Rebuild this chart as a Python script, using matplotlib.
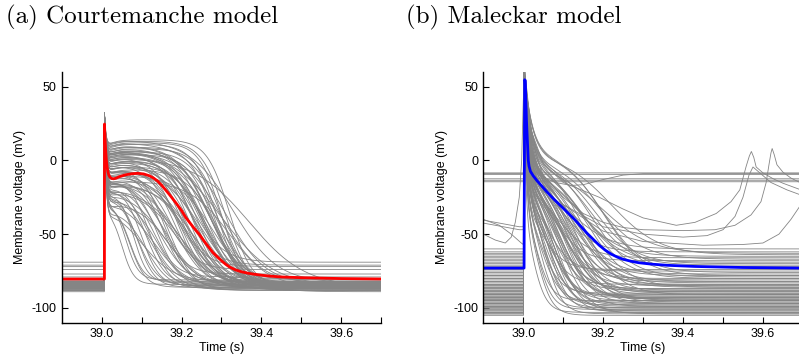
import numpy as np
import matplotlib.pyplot as plt

plt.rcParams['font.family'] = ['Liberation Sans', 'DejaVu Sans']
plt.rcParams['axes.unicode_minus'] = False

# (a) Courtemanche baseline action potential (red)
ctm_t = [38.9, 39.007, 39.0072, 39.008, 39.009, 39.0105, 39.012, 39.014, 39.016, 39.018,
         39.021, 39.025, 39.03, 39.035, 39.045, 39.06, 39.075, 39.09, 39.105, 39.12,
         39.13, 39.14, 39.15, 39.16, 39.17, 39.185, 39.2, 39.21, 39.22, 39.23,
         39.244, 39.26, 39.27, 39.278, 39.29, 39.3, 39.31, 39.32, 39.335, 39.35,
         39.365, 39.378, 39.4, 39.42, 39.45, 39.5, 39.6, 39.7]
ctm_v = [-80.4, -80.4, 24.6, 18, 12, 5, 0, -5, -8, -10,
         -11.5, -12.3, -12.5, -12.2, -11, -9.8, -9.1, -8.8, -9.2, -10.5,
         -12, -14, -16.8, -20, -23.3, -28.5, -34, -38.5, -42, -45.5,
         -50, -56, -59.5, -62.3, -65.5, -68, -70.3, -72.2, -74.2, -75.5,
         -76.4, -77, -77.8, -78.4, -79, -79.5, -80.1, -80.4]

# (a) population: resting level, dome level, repolarisation time, repolarisation width
ctm_rest = [-81, -83, -85, -86, -84, -82, -87, -88,
            -80, -85, -86, -83, -84, -87, -85, -82,
            -86, -88, -84, -83, -85, -87, -81, -86,
            -84, -85, -88, -83, -86, -84, -87, -85,
            -82, -86, -84, -79, -77, -74, -72, -71,
            -69, -85, -86, -87, -84, -83, -85, -86,
            -88, -84, -85, -87, -83, -86, -85, -84,
            -82, -86, -87, -85, -84, -86, -89, -83,
            -84, -86, -85, -87, -83, -88, -86, -85,
            -84, -87, -85, -86, -83, -88, -85, -86]
ctm_dome = [-25, -20, -18, -12, -15, -8, -5, -10,
            -3, 0, -6, 2, -2, 4, -8, 3,
            5, -4, 6, 0, 8, 2, 7, 10,
            9, 4, 11, 6, 12, 8, 13, 14,
            -28, -22, -16, -18, -12, -14, -6, -2,
            0, 6, 10, 5, 12, 14, 8, 2,
            -20, -10, -12, -5, -8, -15, -3, -1,
            -30, -25, -20, -14, -10, -6, 3, 7,
            -30, -26, -22, -32, -18, -24, -28, -20,
            -12, -16, -4, -10, 0, -18, -6, -14]
ctm_repol = [39.06, 39.08, 39.10, 39.12, 39.14, 39.15, 39.16, 39.17,
             39.18, 39.19, 39.20, 39.20, 39.21, 39.22, 39.22, 39.23,
             39.24, 39.24, 39.25, 39.25, 39.26, 39.26, 39.27, 39.27,
             39.28, 39.28, 39.29, 39.29, 39.30, 39.30, 39.31, 39.32,
             39.07, 39.09, 39.11, 39.13, 39.15, 39.17, 39.19, 39.21,
             39.23, 39.25, 39.27, 39.29, 39.31, 39.33, 39.30, 39.37,
             39.12, 39.14, 39.16, 39.18, 39.20, 39.22, 39.24, 39.26,
             39.10, 39.13, 39.16, 39.19, 39.22, 39.25, 39.28, 39.30,
             39.05, 39.07, 39.09, 39.11, 39.12, 39.14, 39.17, 39.19,
             39.21, 39.23, 39.26, 39.28, 39.23, 39.20, 39.29, 39.32]
ctm_width = [0.016, 0.018, 0.022, 0.025, 0.027, 0.028, 0.03, 0.03,
             0.032, 0.032, 0.033, 0.033, 0.034, 0.035, 0.035, 0.036,
             0.036, 0.036, 0.037, 0.037, 0.038, 0.038, 0.038, 0.04,
             0.03, 0.032, 0.03, 0.034, 0.028, 0.032, 0.03, 0.028,
             0.018, 0.022, 0.025, 0.028, 0.03, 0.033, 0.035, 0.036,
             0.038, 0.04, 0.042, 0.045, 0.05, 0.055, 0.065, 0.07,
             0.036, 0.038, 0.04, 0.04, 0.042, 0.044, 0.045, 0.042,
             0.04, 0.042, 0.045, 0.045, 0.046, 0.048, 0.045, 0.048,
             0.015, 0.02, 0.025, 0.03, 0.03, 0.035, 0.04, 0.045,
             0.04, 0.045, 0.035, 0.045, 0.03, 0.05, 0.04, 0.05]

# (b) Maleckar baseline action potential (blue)
mlk_t = [38.9, 39.002, 39.0035, 39.005, 39.008, 39.0105, 39.0125, 39.0145, 39.018, 39.025,
         39.035, 39.045, 39.058, 39.07, 39.085, 39.1, 39.115, 39.13, 39.145, 39.16,
         39.175, 39.19, 39.205, 39.22, 39.235, 39.25, 39.27, 39.29, 39.32, 39.36,
         39.43, 39.55, 39.7]
mlk_v = [-73, -73, 54.6, 54, 27, 12, 0, -4, -7.5, -10.5,
         -14, -17, -21, -24.5, -28.5, -32.5, -36.5, -40.5, -45, -49.5,
         -53.5, -57.5, -60.8, -63.5, -65.5, -67, -68.4, -69.4, -70.3, -71.1,
         -71.9, -72.6, -73]

# (b) population: resting level, post-spike level, repolarisation time/width, spike decay
mlk_rest = [-62, -65, -68, -70, -75, -78, -80, -82,
            -84, -85, -86, -88, -89, -90, -91, -92,
            -93, -94, -95, -96, -97, -98, -99, -100,
            -101, -102, -103, -104, -105, -76, -79, -83,
            -87, -90, -92, -94, -96, -98, -100, -102,
            -64, -67, -72, -77, -81, -85, -88, -91,
            -93, -95, -97, -99, -86, -84, -80, -78,
            -60, -63, -66, -69, -74, -89, -95, -103,
            -82, -87, -91, -94, -97, -100, -104, -71]
mlk_notch = [-10, -5, -15, 0, -18, -8, -2, -12,
             -15, -8, -3, -12, -6, -18, 2, -10,
             -12, -6, -20, -2, -10, -15, -8, -18,
             -15, -10, -20, -12, -18, 5, 3, -4,
             -5, -2, -12, -6, -16, -8, -14, -10,
             4, 2, -2, -6, -8, -4, -6, -10,
             -8, -12, -4, -14, 0, -6, -10, 6,
             -12, -4, -16, -6, -20, -8, -2, -10,
             -3, -10, -16, -5, -7, -12, -9, 0]
mlk_repol = [39.10, 39.14, 39.08, 39.18, 39.06, 39.12, 39.16, 39.10,
             39.05, 39.09, 39.13, 39.07, 39.11, 39.04, 39.15, 39.08,
             39.06, 39.10, 39.03, 39.12, 39.07, 39.05, 39.09, 39.04,
             39.03, 39.06, 39.02, 39.05, 39.03, 39.20, 39.17, 39.13,
             39.08, 39.11, 39.06, 39.09, 39.04, 39.07, 39.05, 39.08,
             39.22, 39.19, 39.15, 39.13, 39.11, 39.14, 39.12, 39.10,
             39.09, 39.07, 39.11, 39.06, 39.16, 39.12, 39.09, 39.20,
             39.12, 39.20, 39.09, 39.15, 39.04, 39.10, 39.13, 39.07,
             39.14, 39.08, 39.05, 39.11, 39.10, 39.06, 39.09, 39.17]
mlk_width = [0.04, 0.05, 0.035, 0.05, 0.03, 0.045, 0.05, 0.04,
             0.03, 0.04, 0.045, 0.035, 0.04, 0.025, 0.045, 0.035,
             0.03, 0.035, 0.02, 0.04, 0.03, 0.025, 0.035, 0.02,
             0.02, 0.025, 0.018, 0.022, 0.02, 0.05, 0.05, 0.045,
             0.035, 0.04, 0.03, 0.035, 0.025, 0.03, 0.025, 0.03,
             0.06, 0.055, 0.05, 0.045, 0.04, 0.045, 0.04, 0.04,
             0.035, 0.03, 0.04, 0.03, 0.05, 0.04, 0.035, 0.05,
             0.05, 0.06, 0.04, 0.05, 0.03, 0.035, 0.04, 0.03,
             0.045, 0.035, 0.025, 0.04, 0.035, 0.03, 0.035, 0.05]
mlk_decay = [0.010, 0.014, 0.008, 0.018, 0.007, 0.012, 0.016, 0.010,
             0.008, 0.011, 0.015, 0.009, 0.012, 0.007, 0.017, 0.010,
             0.008, 0.012, 0.006, 0.014, 0.009, 0.008, 0.011, 0.006,
             0.006, 0.008, 0.005, 0.007, 0.006, 0.020, 0.018, 0.014,
             0.010, 0.013, 0.008, 0.011, 0.007, 0.009, 0.008, 0.010,
             0.020, 0.018, 0.016, 0.014, 0.012, 0.015, 0.013, 0.011,
             0.011, 0.009, 0.013, 0.008, 0.017, 0.013, 0.011, 0.020,
             0.014, 0.020, 0.010, 0.016, 0.007, 0.012, 0.014, 0.009,
             0.015, 0.010, 0.007, 0.012, 0.011, 0.008, 0.010, 0.018]

# (b) depolarised cells that never come back down
mlk_flat = [-8.5, -9.5, -12.5, -13.5, -14.5]

# (b) odd traces with spontaneous activity
odd_t1 = [38.9, 38.95, 38.99, 39.0, 39.004, 39.02, 39.05, 39.1, 39.19, 39.25, 39.3, 39.383,
          39.43, 39.483, 39.52, 39.542, 39.558, 39.566, 39.571, 39.577, 39.583, 39.6,
          39.625, 39.65, 39.7]
odd_v1 = [-40.5, -43, -45, -45, 60, 20, -2, -15, -25, -33, -39, -44,
          -42, -36, -28, -20, -4, 3, 6, 2, -4.5, -8.5,
          -12.4, -15.5, -20.5]
odd_t2 = [38.9, 38.95, 38.99, 39.0, 39.004, 39.02, 39.05, 39.1, 39.15, 39.2, 39.25, 39.3,
          39.4, 39.48, 39.53, 39.57, 39.595, 39.608, 39.615, 39.62, 39.623, 39.628,
          39.635, 39.65, 39.67, 39.7]
odd_v2 = [-42.5, -45, -47, -47, 60, 15, -10, -25, -36, -42, -45.5, -47,
          -47.6, -47, -44, -37, -28, -15, -3, 5, 8, 4,
          -3, -8, -12, -16]
odd_t3 = [38.9, 38.94, 38.97, 38.995, 39.0, 39.004, 39.02, 39.05, 39.1, 39.2, 39.3, 39.4,
          39.46, 39.5, 39.53, 39.55, 39.565, 39.575, 39.59, 39.62, 39.66, 39.7]
odd_v3 = [-40, -44, -50, -56, -57, 60, 10, -15, -30, -45, -50, -52,
          -51, -47, -38, -25, -10, -4.5, -8, -15, -20, -24]
odd_t4 = [38.9, 38.93, 38.955, 38.97, 38.98, 38.99, 38.996, 39.0, 39.003, 39.02, 39.05, 39.1,
          39.2, 39.3, 39.45, 39.55, 39.6, 39.64, 39.67, 39.7]
odd_v4 = [-50, -54, -56, -52, -42, -25, 0, 40, 58, 15, -12, -30,
          -48, -55, -57.5, -57, -56, -50, -40, -28]
odd_t5 = [38.9, 39.0, 39.003, 39.01, 39.02, 39.04, 39.08, 39.12, 39.15, 39.2, 39.25, 39.3, 39.7]
odd_v5 = [-9, -9, 58, 30, 5, -10, -15, -17, -16.5, -13, -10, -9, -9]

t = np.linspace(38.9, 39.7, 2401)


def ctm_trace(rest, dome, repol, width):
    t0 = 39.007
    v = np.full_like(t, rest, dtype=float)
    on = t >= t0
    dt = t[on] - t0
    sig = 1 / (1 + np.exp((t[on] - repol) / width))
    base = rest + (dome - rest) * sig - 6 * np.exp(-dt / 0.02) * sig
    v[on] = base + (32 - base[0]) * np.exp(-dt / 0.004)
    return v


def mlk_trace(rest, notch, repol, width, decay):
    t0 = 39.001
    v = np.full_like(t, rest, dtype=float)
    on = t >= t0
    dt = t[on] - t0
    sig = 1 / (1 + np.exp((t[on] - repol) / width))
    base = rest + (notch - rest) * sig
    v[on] = base + (64 - base[0]) * np.exp(-dt / decay)
    return v


fig = plt.figure(figsize=(7.99, 3.6), dpi=100)
ax1 = fig.add_axes([0.0772, 0.1036, 0.4, 0.697])
ax2 = fig.add_axes([0.6049, 0.1036, 0.4, 0.697])

grey = '#858585'
for r, d, rp, w in zip(ctm_rest, ctm_dome, ctm_repol, ctm_width):
    ax1.plot(t, ctm_trace(r, d, rp, w), color=grey, lw=0.6)
ax1.plot(ctm_t, ctm_v, color='#ff0000', lw=2)

for r, n, rp, w, dc in zip(mlk_rest, mlk_notch, mlk_repol, mlk_width, mlk_decay):
    ax2.plot(t, mlk_trace(r, n, rp, w, dc), color=grey, lw=0.6)
for lv in mlk_flat:
    ax2.plot(t, mlk_trace(lv, lv, 40.5, 0.05, 0.006), color=grey, lw=0.6)
for ot, ov in [(odd_t1, odd_v1), (odd_t2, odd_v2), (odd_t3, odd_v3),
               (odd_t4, odd_v4), (odd_t5, odd_v5)]:
    ax2.plot(ot, ov, color=grey, lw=0.6)
ax2.plot(mlk_t, mlk_v, color='#0000ff', lw=2)

for ax in (ax1, ax2):
    ax.set_xlim(38.9, 39.7)
    ax.set_ylim(-110, 60)
    ax.set_xticks([39.0, 39.2, 39.4, 39.6])
    ax.set_xticklabels(['39.0', '39.2', '39.4', '39.6'])
    ax.set_xticks([39.1, 39.3, 39.5, 39.7], minor=True)
    ax.set_yticks([-100, -50, 0, 50])
    ax.tick_params(which='both', direction='in', length=4, width=0.8, labelsize=9)
    ax.spines['top'].set_visible(False)
    ax.spines['right'].set_visible(False)
    ax.spines['left'].set_linewidth(1.0)
    ax.spines['bottom'].set_linewidth(1.0)
    ax.set_xlabel('Time (s)', fontsize=9, labelpad=2)
    ax.set_ylabel('Membrane voltage (mV)', fontsize=9)

fig.text(0.008, 0.985, '(a) Courtemanche model', family='cmr10', size=18, va='top')
fig.text(0.508, 0.985, '(b) Maleckar model', family='cmr10', size=18, va='top')

fig.savefig('out.png', dpi=100)
